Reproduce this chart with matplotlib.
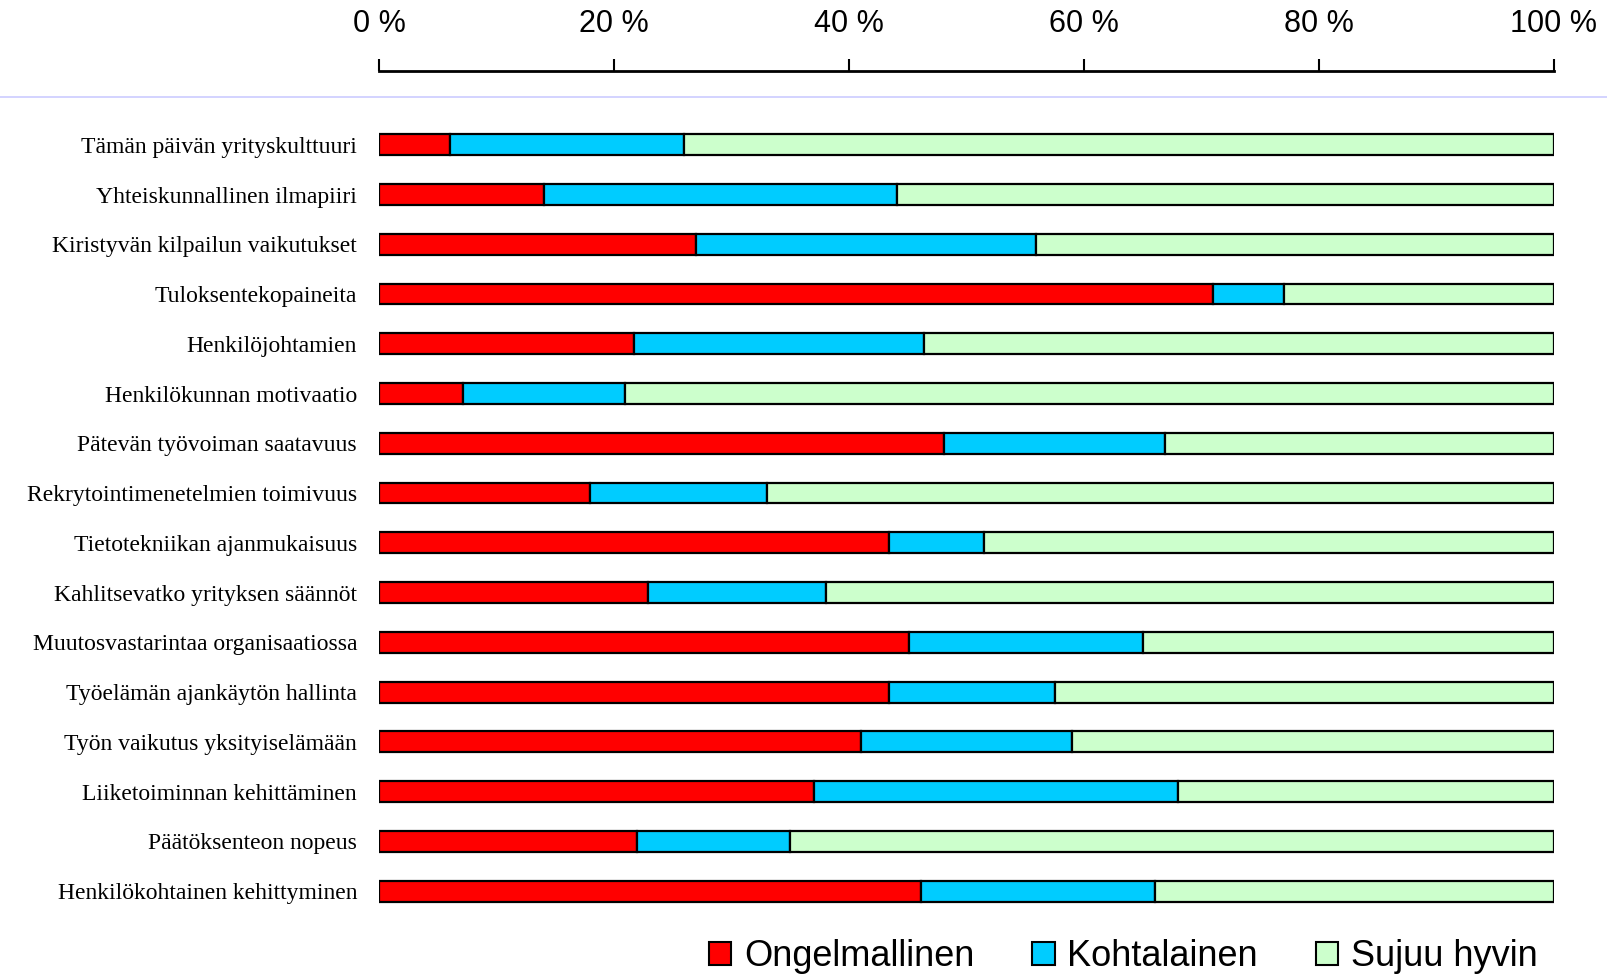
import numpy as np
import matplotlib
matplotlib.use("Agg")
from matplotlib import pyplot as plt
from matplotlib.lines import Line2D

# categories (top to bottom) and shares in percent
categories = ["Tämän päivän yrityskulttuuri", "Yhteiskunnallinen ilmapiiri",
              "Kiristyvän kilpailun vaikutukset", "Tuloksentekopaineita",
              "Henkilöjohtamien", "Henkilökunnan motivaatio",
              "Pätevän työvoiman saatavuus", "Rekrytointimenetelmien toimivuus",
              "Tietotekniikan ajanmukaisuus", "Kahlitsevatko yrityksen säännöt",
              "Muutosvastarintaa organisaatiossa", "Työelämän ajankäytön hallinta",
              "Työn vaikutus yksityiselämään", "Liiketoiminnan kehittäminen",
              "Päätöksenteon nopeus", "Henkilökohtainen kehittyminen"]
ongelmallinen = [6.0, 14.0, 27.0, 71.0, 21.7, 7.1, 48.1, 17.9, 43.4, 22.9, 45.1, 43.4, 41.0, 37.0, 21.9, 46.1]
kohtalainen = [19.9, 30.1, 28.9, 6.0, 24.7, 13.8, 18.8, 15.1, 8.1, 15.1, 19.9, 14.1, 18.0, 31.0, 13.1, 19.9]
sujuu = [100 - a - b for a, b in zip(ongelmallinen, kohtalainen)]

series = ["Ongelmallinen", "Kohtalainen", "Sujuu hyvin"]
colors = ["#FF0000", "#00CCFF", "#CCFFCC"]
ticks = [0, 20, 40, 60, 80, 100]

fig = plt.figure(figsize=(16.07, 9.77), dpi=100)
ax = fig.add_axes([0.236, 0.0635, 0.967 - 0.236, 0.927 - 0.0635])

y = np.arange(len(categories))
left = np.zeros(len(categories))
for vals, col, name in zip([ongelmallinen, kohtalainen, sujuu], colors, series):
    ax.barh(y, vals, left=left, height=0.42, color=col, edgecolor="black",
            linewidth=1.6, label=name)
    left += np.array(vals)

ax.set_xlim(0, 100)
ax.set_ylim(15.48, -1.476)
ax.xaxis.tick_top()
ax.set_xticks(ticks)
ax.set_xticklabels([f"{t} %" for t in ticks],
                   fontdict={"family": "Liberation Sans", "size": 22})
ax.tick_params(axis="x", direction="out", length=9, width=1.5, pad=14)
ax.set_yticks(y)
ax.set_yticklabels(categories, fontdict={"family": "Liberation Serif", "size": 17})
ax.tick_params(axis="y", length=0, pad=16)
for s in ["left", "right", "bottom"]:
    ax.spines[s].set_visible(False)
ax.spines["top"].set_linewidth(2)

# thin light line under the scale
fig.add_artist(Line2D([0, 1], [1 - 97 / 977, 1 - 97 / 977], color="#CCCCFF", lw=1.2))

handles = [plt.Rectangle((0, 0), 1, 1, facecolor=c, edgecolor="black", lw=1.5) for c in colors]
fig.legend(handles, series, loc="center", bbox_to_anchor=(0.699, 0.021), ncol=3,
           frameon=False, handlelength=0.62, handleheight=0.62, handletextpad=0.35,
           columnspacing=1.6, prop={"family": "Liberation Sans", "size": 26})

fig.savefig("out.png", dpi=100)
